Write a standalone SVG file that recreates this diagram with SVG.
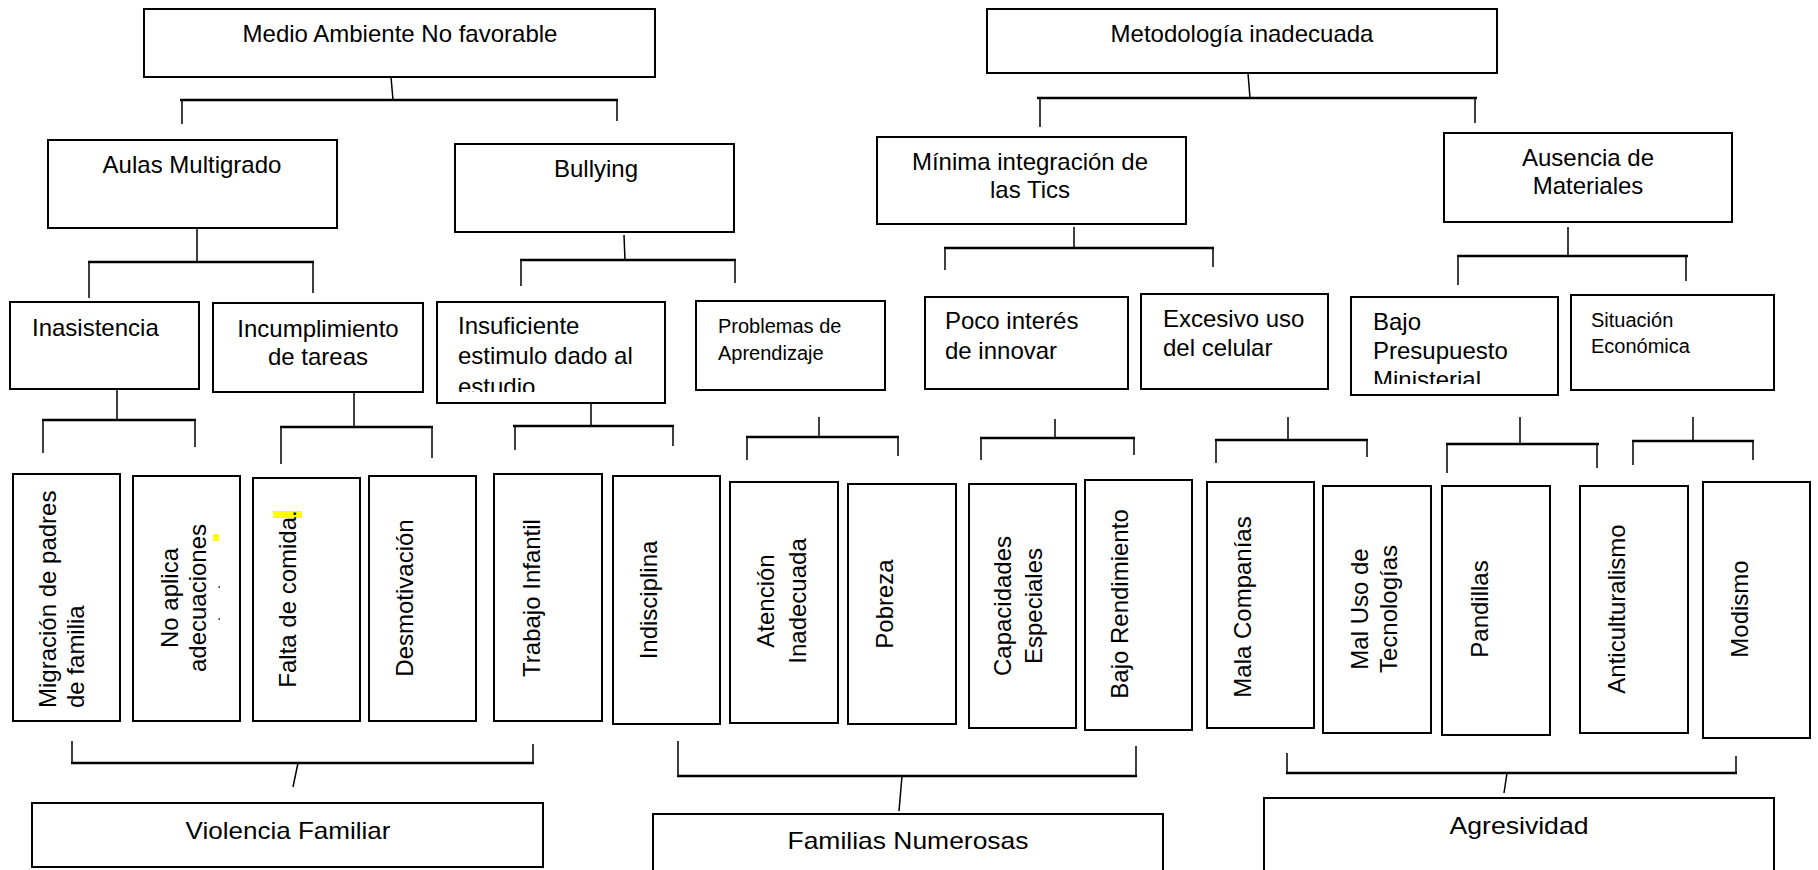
<svg xmlns="http://www.w3.org/2000/svg" width="1818" height="870" viewBox="0 0 1818 870">
<style>
  .box{fill:#fff;stroke:#000;stroke-width:2}
  .t{font-family:"Liberation Sans",Arial,sans-serif;font-size:24px;fill:#000}
  .s{font-size:20px}
  .m{text-anchor:middle}
  .bar{stroke:#000;stroke-width:2.5;fill:none}
  .v{stroke:#000;stroke-width:1.5;fill:none}
  .hl{fill:#ffff00}
</style>
<defs>
  <clipPath id="clipIns"><rect x="437" y="302" width="228" height="90"/></clipPath>
  <clipPath id="clipBajo"><rect x="1351" y="297" width="207" height="87"/></clipPath>
</defs>
<rect width="1818" height="870" fill="#fff"/>

<g id="connectors">
  <path class="v" d="M391,77 L393,100 M182,100 V124 M617,100 V121"/>
  <path class="bar" d="M180,100 H618"/>
  <path class="v" d="M1248,73 L1250,98 M1040,98 V127 M1475,98 V123"/>
  <path class="bar" d="M1037,98 H1477"/>
  <path class="v" d="M197,228 V262 M89,262 V298 M313,262 V293"/>
  <path class="bar" d="M88,262 H314"/>
  <path class="v" d="M624,235 L625,260 M521,260 V286 M735,260 V283"/>
  <path class="bar" d="M520,260 H736"/>
  <path class="v" d="M1074,227 V248 M945,248 V270 M1213,248 V267"/>
  <path class="bar" d="M944,248 H1214"/>
  <path class="v" d="M1568,227 V256 M1458,256 V285 M1686,256 V281"/>
  <path class="bar" d="M1457,256 H1688"/>
  <path class="v" d="M117,389 V420 M43,420 V453 M195,420 V447"/>
  <path class="bar" d="M42,420 H196"/>
  <path class="v" d="M354,392 V427 M281,427 V464 M432,427 V458"/>
  <path class="bar" d="M280,427 H433"/>
  <path class="v" d="M591,403 V426 M515,426 V450 M673,426 V446"/>
  <path class="bar" d="M513,426 H674"/>
  <path class="v" d="M819,417 V437 M747,437 V460 M898,437 V456"/>
  <path class="bar" d="M746,437 H899"/>
  <path class="v" d="M1055,419 V438 M981,438 V460 M1134,438 V455"/>
  <path class="bar" d="M980,438 H1135"/>
  <path class="v" d="M1288,417 V440 M1216,440 V463 M1367,440 V457"/>
  <path class="bar" d="M1215,440 H1368"/>
  <path class="v" d="M1520,417 V444 M1447,444 V473 M1597,444 V468"/>
  <path class="bar" d="M1446,444 H1599"/>
  <path class="v" d="M1693,417 V441 M1633,441 V465 M1753,441 V460"/>
  <path class="bar" d="M1632,441 H1754"/>
  <path class="v" d="M72,741 V763 M533,744 V763 M298,763 L293,787"/>
  <path class="bar" d="M71,763 H534"/>
  <path class="v" d="M678,741 V776 M1136,746 V776 M902,776 L899,811"/>
  <path class="bar" d="M677,776 H1137"/>
  <path class="v" d="M1287,753 V773 M1736,756 V773 M1507,773 L1504,793"/>
  <path class="bar" d="M1286,773 H1737"/>
</g>

<g id="n-medio"><rect class="box" x="144" y="9" width="511" height="68"/><text class="t m" x="400" y="42">Medio Ambiente No favorable</text></g>
<g id="n-metodologia"><rect class="box" x="987" y="9" width="510" height="64"/><text class="t m" x="1242" y="42">Metodología inadecuada</text></g>

<g id="n-aulas"><rect class="box" x="48" y="140" width="289" height="88"/><text class="t m" x="192" y="173">Aulas Multigrado</text></g>
<g id="n-bullying"><rect class="box" x="455" y="144" width="279" height="88"/><text class="t m" x="596" y="177">Bullying</text></g>
<g id="n-minima"><rect class="box" x="877" y="137" width="309" height="87"/><text class="t m" x="1030" y="170">Mínima integración de</text><text class="t m" x="1030" y="198">las Tics</text></g>
<g id="n-ausencia"><rect class="box" x="1444" y="133" width="288" height="89"/><text class="t m" x="1588" y="166">Ausencia de</text><text class="t m" x="1588" y="194">Materiales</text></g>

<g id="n-inasistencia"><rect class="box" x="10" y="302" width="189" height="87"/><text class="t" x="32" y="336">Inasistencia</text></g>
<g id="n-incumplimiento"><rect class="box" x="213" y="303" width="210" height="89"/><text class="t m" x="318" y="337">Incumplimiento</text><text class="t m" x="318" y="365">de tareas</text></g>
<g id="n-insuficiente"><rect class="box" x="437" y="302" width="228" height="101"/><text class="t" x="458" y="334">Insuficiente</text><text class="t" x="458" y="364">estimulo dado al</text><text class="t" x="458" y="395" clip-path="url(#clipIns)">estudio</text></g>
<g id="n-problemas"><rect class="box" x="696" y="301" width="189" height="89"/><text class="t s" x="718" y="333">Problemas de</text><text class="t s" x="718" y="360">Aprendizaje</text></g>
<g id="n-poco"><rect class="box" x="925" y="297" width="203" height="92"/><text class="t" x="945" y="329">Poco interés</text><text class="t" x="945" y="359">de innovar</text></g>
<g id="n-excesivo"><rect class="box" x="1141" y="294" width="187" height="95"/><text class="t" x="1163" y="327">Excesivo uso</text><text class="t" x="1163" y="356">del celular</text></g>
<g id="n-bajo-presupuesto"><rect class="box" x="1351" y="297" width="207" height="98"/><text class="t" x="1373" y="330">Bajo</text><text class="t" x="1373" y="359">Presupuesto</text><text class="t" x="1373" y="388" clip-path="url(#clipBajo)">Ministerial</text></g>
<g id="n-situacion"><rect class="box" x="1571" y="295" width="203" height="95"/><text class="t s" x="1591" y="327">Situación</text><text class="t s" x="1591" y="353">Económica</text></g>

<g id="n-migracion"><rect class="box" x="13" y="474" width="107" height="247"/><text class="t" transform="translate(56,708) rotate(-90)">Migración de padres</text><text class="t" transform="translate(84,708) rotate(-90)">de familia</text></g>
<g id="n-noaplica"><rect class="box" x="133" y="476" width="107" height="245"/><text class="t m" transform="translate(178,598) rotate(-90)">No aplica</text><text class="t m" transform="translate(206,598) rotate(-90)">adecuaciones</text><rect class="hl" x="213" y="534" width="6" height="7"/><rect x="218.5" y="586" width="1.5" height="2" fill="#555"/><rect x="218.5" y="618" width="1.5" height="2" fill="#555"/></g>
<g id="n-falta"><rect class="box" x="253" y="478" width="107" height="243"/><rect class="hl" x="273" y="511" width="29" height="7"/><text class="t m" transform="translate(296,599) rotate(-90)">Falta de comida.</text></g>
<g id="n-desmotivacion"><rect class="box" x="369" y="476" width="107" height="245"/><text class="t m" transform="translate(413,598) rotate(-90)">Desmotivación</text></g>
<g id="n-trabajo"><rect class="box" x="494" y="474" width="108" height="247"/><text class="t m" transform="translate(540,598) rotate(-90)">Trabajo Infantil</text></g>
<g id="n-indisciplina"><rect class="box" x="613" y="476" width="107" height="248"/><text class="t m" transform="translate(657,600) rotate(-90)">Indisciplina</text></g>
<g id="n-atencion"><rect class="box" x="730" y="482" width="108" height="241"/><text class="t m" transform="translate(774,601) rotate(-90)">Atención</text><text class="t m" transform="translate(806,601) rotate(-90)">Inadecuada</text></g>
<g id="n-pobreza"><rect class="box" x="848" y="484" width="108" height="240"/><text class="t m" transform="translate(893,604) rotate(-90)">Pobreza</text></g>
<g id="n-capacidades"><rect class="box" x="969" y="484" width="107" height="244"/><text class="t m" transform="translate(1011,606) rotate(-90)">Capacidades</text><text class="t m" transform="translate(1042,606) rotate(-90)">Especiales</text></g>
<g id="n-bajo-rendimiento"><rect class="box" x="1085" y="480" width="107" height="250"/><text class="t m" transform="translate(1128,604) rotate(-90)">Bajo Rendimiento</text></g>
<g id="n-mala"><rect class="box" x="1207" y="482" width="107" height="246"/><text class="t m" transform="translate(1251,607) rotate(-90)">Mala Companías</text></g>
<g id="n-maluso"><rect class="box" x="1323" y="486" width="108" height="247"/><text class="t m" transform="translate(1368,609) rotate(-90)">Mal Uso de</text><text class="t m" transform="translate(1397,609) rotate(-90)">Tecnologías</text></g>
<g id="n-pandillas"><rect class="box" x="1442" y="486" width="108" height="249"/><text class="t m" transform="translate(1488,609) rotate(-90)">Pandillas</text></g>
<g id="n-anticulturalismo"><rect class="box" x="1580" y="486" width="108" height="247"/><text class="t m" transform="translate(1625,609) rotate(-90)">Anticulturalismo</text></g>
<g id="n-modismo"><rect class="box" x="1703" y="482" width="107" height="256"/><text class="t m" transform="translate(1748,609) rotate(-90)">Modismo</text></g>

<g id="n-violencia"><rect class="box" x="32" y="803" width="511" height="64"/><text class="t m" x="288" y="839" textLength="205" lengthAdjust="spacingAndGlyphs">Violencia Familiar</text></g>
<g id="n-familias"><rect class="box" x="653" y="814" width="510" height="62"/><text class="t m" x="908" y="849" textLength="241" lengthAdjust="spacingAndGlyphs">Familias Numerosas</text></g>
<g id="n-agresividad"><rect class="box" x="1264" y="798" width="510" height="78"/><text class="t m" x="1519" y="834" textLength="139" lengthAdjust="spacingAndGlyphs">Agresividad</text></g>
</svg>
